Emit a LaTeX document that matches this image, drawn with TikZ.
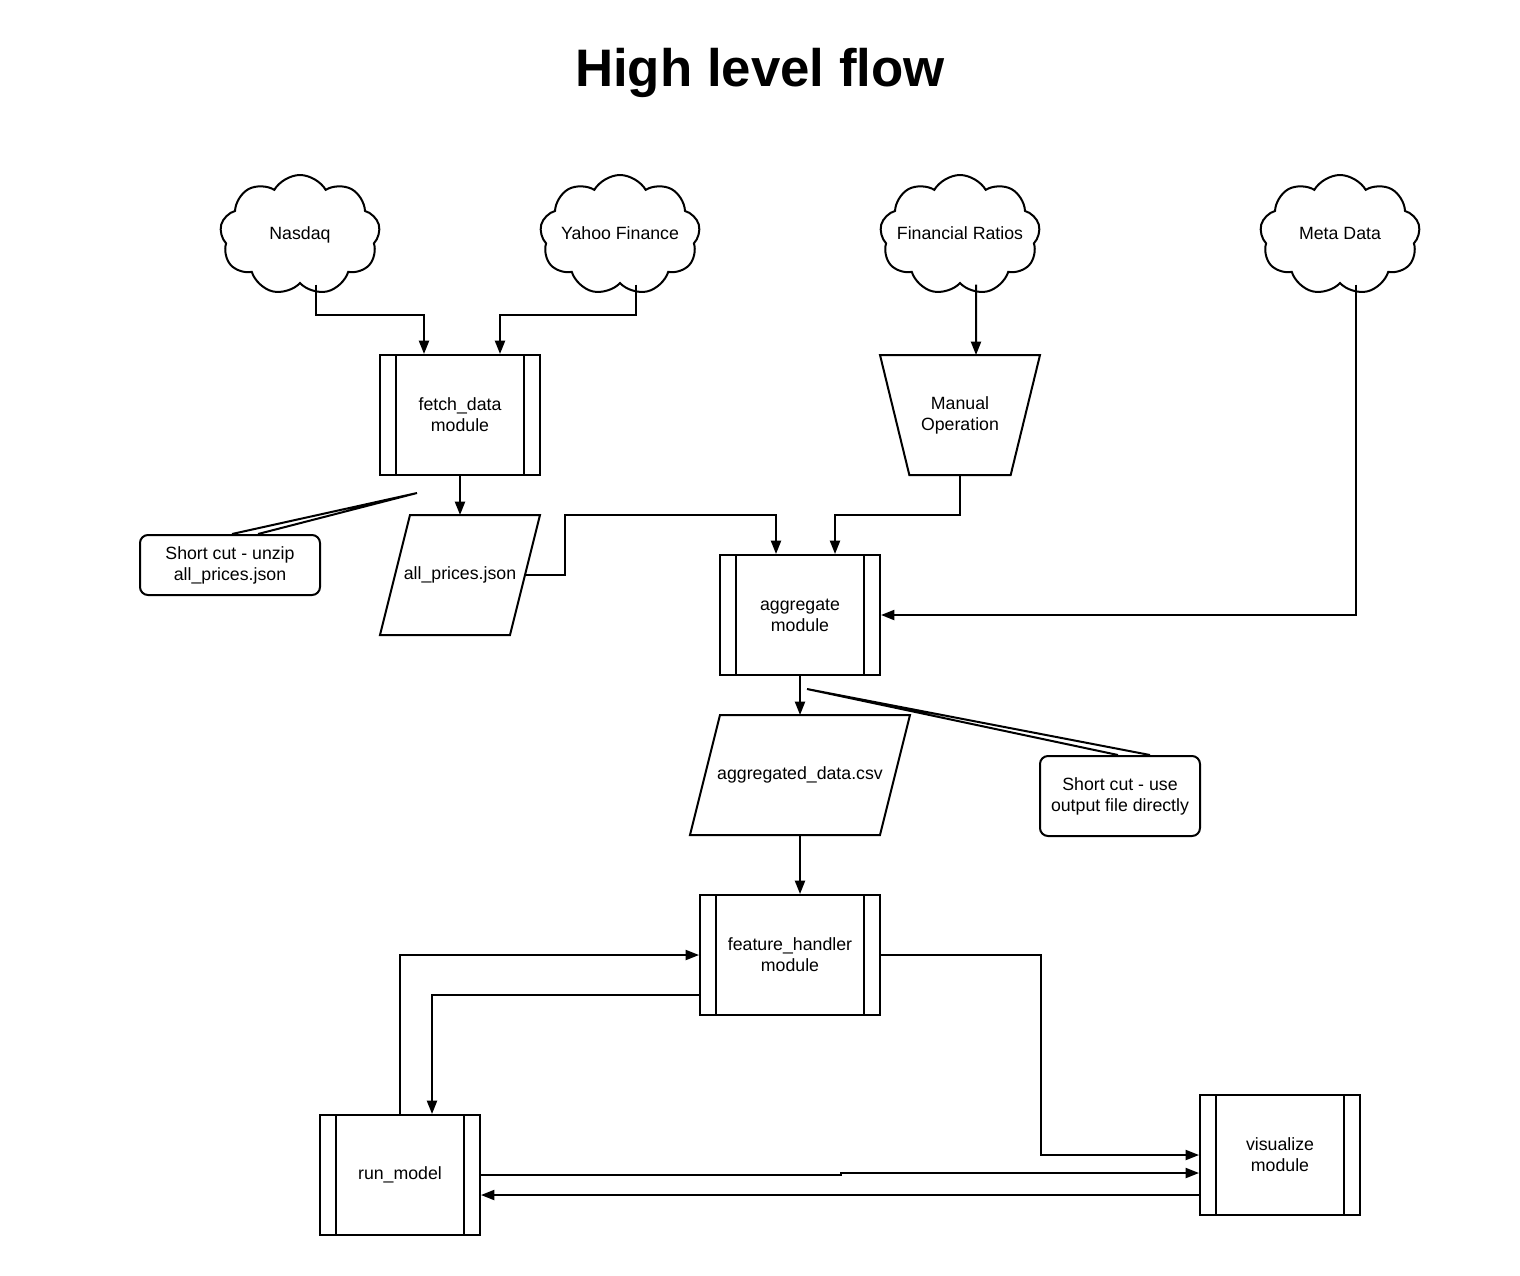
\documentclass[tikz,border=0pt]{standalone}
\usepackage{fontspec}
\setmainfont{Liberation Sans}
\usetikzlibrary{arrows.meta,shapes.symbols}
\newcommand{\cloudlabel}[1]{\makebox[0pt]{\strut #1}}

\begin{document}
\begin{tikzpicture}[
  x=0.75pt, y=-0.75pt,
  line width=1.5pt,
  >={Triangle[length=10pt,width=7.5pt]},
  every node/.style={font=\fontsize{13.3}{15.8}\selectfont, align=center},
  module/.style={
    draw,
    rectangle,
    minimum width=120pt,
    minimum height=90pt,
    path picture={
      \draw[line width=1.5pt]
        ([xshift=12pt]path picture bounding box.north west) --
        ([xshift=12pt]path picture bounding box.south west)
        ([xshift=-12pt]path picture bounding box.north east) --
        ([xshift=-12pt]path picture bounding box.south east);
    }
  },
  source/.style={
    draw,
    cloud,
    cloud puffs=9,
    cloud puff arc=120,
    aspect=1.33,
    minimum width=120pt,
    minimum height=90pt,
    inner sep=0pt
  },
  datafile/.style={
    rectangle,
    outer sep=0pt,
    minimum width=97.5pt,
    minimum height=90pt
  },
  manualop/.style={
    rectangle,
    outer sep=0pt,
    minimum width=120pt,
    minimum height=90pt
  },
  shortcut/.style={
    draw,
    rectangle,
    rounded corners=6pt,
    minimum width=135pt,
    minimum height=45pt
  }
]
\useasboundingbox (0,0) rectangle (1520,1275);

\node[font=\fontsize{39.6}{44}\selectfont\bfseries] (title) at (760,73) {High level flow};

% sources
\node[source] (nasdaq) at (300,235) {\cloudlabel{Nasdaq}};
\node[source] (yahoo) at (620,235) {\cloudlabel{Yahoo Finance}};
\node[source] (ratios) at (960,235) {\cloudlabel{Financial Ratios}};
\node[source] (meta) at (1340,235) {\cloudlabel{Meta Data}};

% modules and files
\node[module] (fetch) at (460,415) {fetch\_data\\module};
\node[datafile] (prices) at (460,575) {all\_prices.json};
\node[shortcut] (cut1) at (230,565) {Short cut - unzip\\all\_prices.json};
\node[manualop] (manual) at (960,415) {Manual\\Operation};
\node[module] (agg) at (800,615) {aggregate\\module};
\node[datafile,minimum width=142.5pt] (aggcsv) at (800,775) {aggregated\_data.csv};
\node[shortcut,minimum width=120pt,minimum height=60pt] (cut2) at (1120,796) {Short cut - use\\output file directly};
\node[module,minimum width=135pt] (feat) at (790,955) {feature\_handler\\module};
\node[module] (run) at (400,1175) {run\_model};
\node[module] (vis) at (1280,1155) {visualize\\module};

% file and manual outlines
\foreach \f in {prices,aggcsv}
  \draw ([xshift=11.25pt]\f.north west) -- ([xshift=11.25pt]\f.north east)
    -- ([xshift=-11.25pt]\f.south east) -- ([xshift=-11.25pt]\f.south west) -- cycle;
\draw (manual.north west) -- (manual.north east)
  -- ([xshift=-22pt]manual.south east) -- ([xshift=22pt]manual.south west) -- cycle;

\coordinate (tip1) at (417,493);
\coordinate (tip2) at (807,689);

% flow
\draw[->] ([xshift=12pt]nasdaq.south) -- ++(0,30) -| ([xshift=-27pt]fetch.north);
\draw[->] ([xshift=12pt]yahoo.south) -- ++(0,30) -| ([xshift=30pt]fetch.north);
\draw[->] ([xshift=12pt]ratios.south) -- ([xshift=12pt]manual.north);
\draw[->] (fetch.south) -- (prices.north);
\draw[->] (prices.east) -- ++(40,0) -- ++(0,-60) -| ([xshift=-18pt]agg.north);
\draw[->] (manual.south) -- ++(0,40) -| ([xshift=26.25pt]agg.north);
\draw[->] ([xshift=12pt]meta.south) |- (agg.east);
\draw[->] (agg.south) -- (aggcsv.north);
\draw[->] (aggcsv.south) -- (aggcsv.south |- feat.north);
\draw[->] (run.north) |- (feat.west);
\draw[->] ([yshift=-30pt]feat.west) -| ([xshift=24pt]run.north);
\draw[->] (feat.east) -- ++(160,0) |- (vis.west);
\draw[->] (run.east) -- ++(360,0) -- ++(0,-2) -- ([yshift=-13.5pt]vis.west);
\draw[->] ([yshift=-30pt]vis.west) -- ([yshift=-15pt]run.east);

% callout pointers
\draw ([xshift=1.5pt]cut1.north) -- (tip1) -- ([xshift=21pt]cut1.north);
\draw ([xshift=-1.5pt]cut2.north) -- (tip2) -- ([xshift=22.5pt]cut2.north);
\end{tikzpicture}
\end{document}
